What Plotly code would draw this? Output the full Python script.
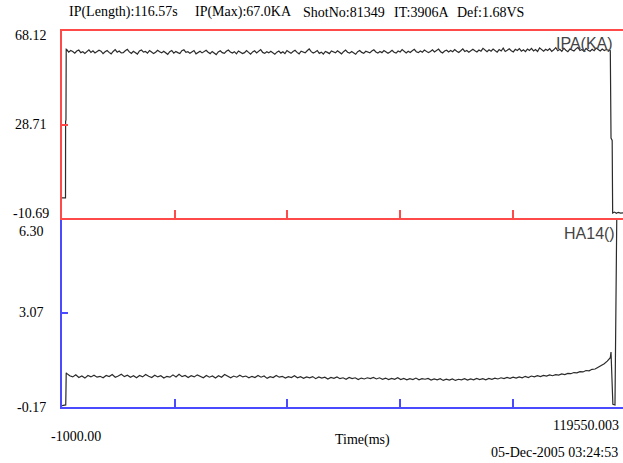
import numpy as np
import plotly.graph_objects as go

# ---------------- data ----------------
x_min, x_max = -1000.00, 119550.003
ipa_ticks = [-10.69, 28.71, 68.12]
ha_ticks = [-0.17, 3.07, 6.30]
x_tickvals = [23110, 47220, 71330, 95440]

# IPA(KA) plasma current
ipa_lead_t = [-1000, -250, -230, -150, -100]
ipa_lead_v = [-2.2, -2.2, 30.0, 30.6, 60.4]
ipa_flat_v = [
    60.3, 59.2, 59.9, 59.5, 58.8, 59.7, 60.1, 59.0, 59.4, 58.7,
    59.6, 60.2, 59.1, 59.8, 58.9, 59.3, 60.0, 59.6, 58.6, 59.4,
    59.9, 59.1, 58.5, 59.5, 60.3, 59.2, 59.7, 58.9, 59.0, 59.8,
    60.4, 59.3, 58.7, 59.6, 59.1, 58.4, 59.7, 60.1, 59.2, 59.5,
    58.8, 59.9, 59.3, 58.6, 59.2, 60.0, 59.4, 58.9, 59.6, 59.1,
    58.3, 59.4, 59.9, 58.8, 59.5, 59.0, 58.6, 59.8, 60.2, 59.1,
    59.4, 58.7, 59.2, 59.9, 58.5, 59.1, 59.6, 58.9, 59.3, 60.0,
    59.2, 58.6, 59.5, 58.9, 58.2, 59.3, 59.8, 59.0, 58.7, 59.6,
    60.1, 59.3, 58.8, 59.4, 58.5, 59.7, 59.2, 58.6, 59.0, 59.9,
    59.1, 58.4, 59.3, 59.8, 58.9, 59.5, 60.3, 59.1, 58.7, 59.4,
    58.9, 59.6, 59.0, 58.3, 59.2, 59.7, 58.8, 59.4, 58.6, 59.9,
    59.3, 58.7, 59.5, 60.0, 59.1, 58.5, 59.6, 59.2, 58.9, 59.8,
    60.6, 59.4, 58.8, 59.3, 59.9, 58.7, 59.2, 58.4, 59.5, 59.1,
    58.6, 59.7, 59.2, 58.9, 59.8, 59.0, 58.5, 59.4, 60.1, 59.2,
    58.8, 59.5, 59.0, 58.3, 59.4, 59.9, 59.1, 58.7, 59.6, 59.2,
    58.9, 59.7, 60.2, 59.3, 58.8, 59.5, 59.0, 59.9, 59.4, 58.7,
    59.3, 60.0, 59.2, 58.8, 59.7, 59.3, 60.3, 59.5, 58.9, 59.6,
    59.1, 59.8, 60.4, 59.4, 59.0, 59.7, 59.2, 60.1, 59.6, 59.0,
    59.5, 60.2, 59.3, 59.8, 60.5, 59.4, 58.9, 59.7, 60.0, 59.3,
    59.9, 59.4, 60.3, 59.6, 59.1, 59.8, 60.6, 59.5, 59.9, 59.2,
    59.7, 60.4, 59.8, 59.3, 60.1, 59.6, 60.8, 59.9, 59.4, 60.2,
    59.6, 60.5, 59.8, 59.2, 60.3, 59.7, 60.9, 59.5, 60.0, 60.6,
    59.8, 59.3, 60.4, 59.9, 60.7, 59.6, 60.2, 59.4, 60.5, 59.9,
    60.8, 59.7, 60.3, 59.5, 61.0, 60.1, 59.6, 60.4, 59.9, 60.7,
    59.5, 60.2, 61.1, 59.8, 60.4, 59.6, 60.9, 60.0, 59.4, 60.5,
    60.1, 59.7, 60.6, 61.2, 59.9, 60.3, 59.5, 60.8, 60.0, 59.6,
    60.4, 59.8, 60.9, 60.2, 59.7, 60.5, 59.9, 60.3, 60.0, 59.8,
]
ipa_tail_t = [116450, 116700, 116800, 117200, 117600, 118000, 118500, 119000, 119500]
ipa_tail_v = [23.0, 22.0, -8.6, -8.2, -8.7, -8.3, -8.6, -8.4, -8.5]

# HA14() signal
ha_lead_t = [-1000, -250, -200, -150, -100]
ha_lead_v = [-0.12, -0.12, -0.10, 0.40, 1.00]
ha_flat_v = [
    0.98, 0.90, 0.86, 0.93, 0.84, 0.89, 0.82, 0.91, 0.86, 0.92, 0.85, 0.88, 0.83, 0.91, 0.87, 0.94, 0.85, 0.89, 0.95, 0.87,
    0.92, 0.85, 0.90, 0.83, 0.91, 0.86, 0.94, 0.88, 0.84, 0.92, 0.86, 0.90, 0.82, 0.88, 0.85, 0.93, 0.86, 0.95, 0.87, 0.91,
    0.84, 0.90, 0.86, 0.93, 0.87, 0.83, 0.91, 0.85, 0.89, 0.82, 0.90, 0.85, 0.94, 0.88, 0.83, 0.89, 0.85, 0.92, 0.86, 0.89,
    0.83, 0.88, 0.84, 0.91, 0.85, 0.89, 0.81, 0.87, 0.84, 0.91, 0.85, 0.88, 0.82, 0.87, 0.84, 0.90, 0.83, 0.87, 0.81, 0.86,
    0.83, 0.87, 0.80, 0.86, 0.82, 0.85, 0.79, 0.84, 0.81, 0.86, 0.80, 0.83, 0.78, 0.84, 0.80, 0.83, 0.77, 0.82, 0.79, 0.83,
    0.80, 0.84, 0.79, 0.83, 0.78, 0.82, 0.77, 0.81, 0.78, 0.83, 0.77, 0.81, 0.76, 0.80, 0.77, 0.82, 0.76, 0.80, 0.78, 0.81,
    0.75, 0.79, 0.76, 0.80, 0.74, 0.78, 0.75, 0.79, 0.74, 0.78, 0.76, 0.80, 0.75, 0.79, 0.76, 0.81, 0.77, 0.80, 0.76, 0.81,
    0.78, 0.82, 0.79, 0.83, 0.80, 0.84, 0.81, 0.85, 0.82, 0.86, 0.83, 0.88, 0.84, 0.89, 0.86, 0.90, 0.87, 0.91, 0.89, 0.93,
    0.90, 0.94, 0.92, 0.96, 0.94, 0.98, 0.97, 1.01, 1.00, 1.04, 1.03, 1.08, 1.07, 1.12, 1.13, 1.19, 1.24, 1.31, 1.40, 1.52,
]
ha_tail_t = [116450, 116650, 116850, 117300, 117700, 119500]
ha_tail_v = [1.71, 0.60, -0.08, -0.10, 6.60, 6.60]

flat_t_start, flat_t_end = 0, 116300

header_parts = ["IP(Length):116.57s", "IP(Max):67.0KA", "ShotNo:81349", "IT:3906A", "Def:1.68VS"]
header_px = [67, 193, 301, 392, 455]
date_text = "05-Dec-2005 03:24:53"

# ---------------- build ----------------
ipa_flat_t = np.linspace(flat_t_start, flat_t_end, len(ipa_flat_v))
ha_flat_t = np.linspace(flat_t_start, flat_t_end, len(ha_flat_v))
ipa_t = list(ipa_lead_t) + list(ipa_flat_t) + ipa_tail_t
ipa_v = ipa_lead_v + ipa_flat_v + ipa_tail_v
ha_t = list(ha_lead_t) + list(ha_flat_t) + ha_tail_t
ha_v = ha_lead_v + ha_flat_v + ha_tail_v

RED = "#ff4a4a"
BLUE = "#4a4aff"
LINE = "#2b2b2b"
SERIF = "Liberation Serif, Times New Roman, serif"
SANS = "Liberation Sans, Arial, sans-serif"

W, H = 623, 463
ML, MR, MT, MB = 62, 0, 31, 56
ph = H - MT - MB
split = (407 - 218) / ph

fig = go.Figure()
fig.add_trace(go.Scatter(x=ipa_t, y=ipa_v, mode="lines", line=dict(color=LINE, width=1.2),
                         xaxis="x2", yaxis="y2", showlegend=False, hoverinfo="skip"))
fig.add_trace(go.Scatter(x=ha_t, y=ha_v, mode="lines", line=dict(color=LINE, width=1.2),
                         xaxis="x", yaxis="y", showlegend=False, hoverinfo="skip"))

x_right = x_min + (x_max - x_min) * (W - ML) / 563.5

common_x = dict(range=[x_min, x_right], showgrid=False, zeroline=False, showticklabels=False,
                tickvals=x_tickvals, ticks="inside", ticklen=8, tickwidth=2, fixedrange=True)

fig.update_layout(
    width=W, height=H, autosize=False,
    margin=dict(l=ML, r=MR, t=MT, b=MB, pad=0),
    paper_bgcolor="white", plot_bgcolor="white",
    xaxis=dict(**common_x, anchor="y", showline=True, linecolor=BLUE, linewidth=2, tickcolor=BLUE),
    xaxis2=dict(**common_x, anchor="y2", matches="x", showline=True, mirror=True,
                linecolor=RED, linewidth=2, tickcolor=RED),
    yaxis=dict(domain=[0, split], range=[ha_ticks[0], ha_ticks[2]], showgrid=False, zeroline=False,
               showline=True, linecolor=BLUE, linewidth=2, showticklabels=False,
               tickvals=[(ha_ticks[0] + ha_ticks[2]) / 2], ticks="inside", ticklen=6, tickwidth=2,
               tickcolor=BLUE, anchor="x", fixedrange=True),
    yaxis2=dict(domain=[split, 1], range=[ipa_ticks[0], ipa_ticks[2]], showgrid=False, zeroline=False,
                showline=True, linecolor=RED, linewidth=2, showticklabels=False,
                tickvals=[(ipa_ticks[0] + ipa_ticks[2]) / 2], ticks="inside", ticklen=6, tickwidth=2,
                tickcolor=RED, anchor="x2", fixedrange=True),
)

ann = []
tf = dict(family=SERIF, size=14, color="black")


def px_x(p):
    return (p - ML) / (W - ML)


def px_y(p):
    return (H - MB - p) / ph


# y tick labels (centred in the left margin)
for val, ref, ys in [(ipa_ticks[2], "y2", -4), (ipa_ticks[1], "y2", 0), (ipa_ticks[0], "y2", 5),
                     (ha_ticks[2], "y", -13), (ha_ticks[1], "y", 0), (ha_ticks[0], "y", 0)]:
    ann.append(dict(text=f"{val:.2f}", xref="paper", x=px_x(31), xanchor="center",
                    yref=ref, y=val, yanchor="middle", yshift=ys, showarrow=False, font=tf))

for t, p in zip(header_parts, header_px):
    ann.append(dict(text=t, xref="paper", x=px_x(p), xanchor="left", yref="paper", y=px_y(12),
                    yanchor="middle", showarrow=False, font=tf))
ann.append(dict(text=f"{x_min:.2f}", xref="paper", x=px_x(76), xanchor="center", yref="paper",
                y=px_y(436), yanchor="middle", showarrow=False, font=tf))
ann.append(dict(text=f"{x_max:.3f}", xref="paper", x=px_x(621), xanchor="right", yref="paper",
                y=px_y(425), yanchor="middle", showarrow=False, font=tf))
ann.append(dict(text="Time(ms)", xref="paper", x=px_x(362), xanchor="center", yref="paper",
                y=px_y(440), yanchor="middle", showarrow=False, font=tf))
ann.append(dict(text=date_text, xref="paper", x=px_x(620), xanchor="right", yref="paper",
                y=px_y(452), yanchor="middle", showarrow=False, font=tf))
# channel names
ann.append(dict(text="IPA(KA)", xref="paper", x=px_x(615), xanchor="right", yref="paper",
                y=px_y(44), yanchor="middle", showarrow=False, font=dict(family=SANS, size=16, color="#444")))
ann.append(dict(text="HA14()", xref="paper", x=px_x(617), xanchor="right", yref="paper",
                y=px_y(233), yanchor="middle", showarrow=False, font=dict(family=SANS, size=16, color="#444")))

fig.update_layout(annotations=ann)
fig.write_html("out.html", config={"displayModeBar": False})
